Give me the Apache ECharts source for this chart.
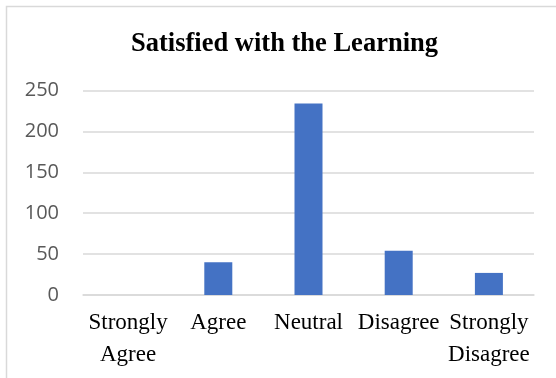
<!DOCTYPE html>
<html>
<head>
<meta charset="utf-8">
<script src="https://cdn.jsdelivr.net/npm/echarts@6/dist/echarts.min.js"></script>
<style>
  html, body { margin: 0; padding: 0; background: #ffffff; }
  #chart { width: 556px; height: 378px; }
</style>
</head>
<body>
<div id="chart"></div>
<script>
// Survey responses: "Satisfied with the Learning"
const chartTitle = 'Satisfied with the Learning';
const categories = ['Strongly\nAgree', 'Agree', 'Neutral', 'Disagree', 'Strongly\nDisagree'];
const responses = [0, 40, 234, 54, 27];
const yTicks = { min: 0, max: 250, interval: 50 };

const chart = echarts.init(document.getElementById('chart'), null, { renderer: 'canvas' });

chart.setOption({
  backgroundColor: '#ffffff',
  animation: false,
  title: {
    text: chartTitle,
    left: 126,
    top: 26,
    textStyle: {
      fontFamily: '"Liberation Serif", "Times New Roman", serif',
      fontWeight: 'bold',
      fontSize: 26.5,
      color: '#000000'
    }
  },
  graphic: [{
    type: 'rect',
    shape: { x: 6.5, y: 6.5, width: 620, height: 420 },
    style: { fill: 'none', stroke: '#d9d9d9', lineWidth: 1.5 },
    silent: true
  }],
  grid: { left: 83, right: 22, top: 90.5, bottom: 83, containLabel: false },
  xAxis: {
    type: 'category',
    data: categories,
    axisLine: { show: true, lineStyle: { color: '#d9d9d9', width: 1.5 } },
    axisTick: { show: false },
    axisLabel: {
      interval: 0,
      margin: 12,
      fontFamily: '"Liberation Serif", "Times New Roman", serif',
      fontSize: 23,
      lineHeight: 32,
      color: '#000000'
    }
  },
  yAxis: {
    type: 'value',
    min: yTicks.min,
    max: yTicks.max,
    interval: yTicks.interval,
    axisLine: { show: false },
    axisTick: { show: false },
    splitLine: { lineStyle: { color: '#d9d9d9', width: 1.5 } },
    axisLabel: {
      margin: 24,
      fontFamily: '"Open Sans", "Noto Sans", sans-serif',
      fontSize: 20,
      color: '#595959'
    }
  },
  series: [{
    type: 'bar',
    data: responses,
    barWidth: 28,
    itemStyle: { color: '#4472c4' }
  }]
});
</script>
</body>
</html>
